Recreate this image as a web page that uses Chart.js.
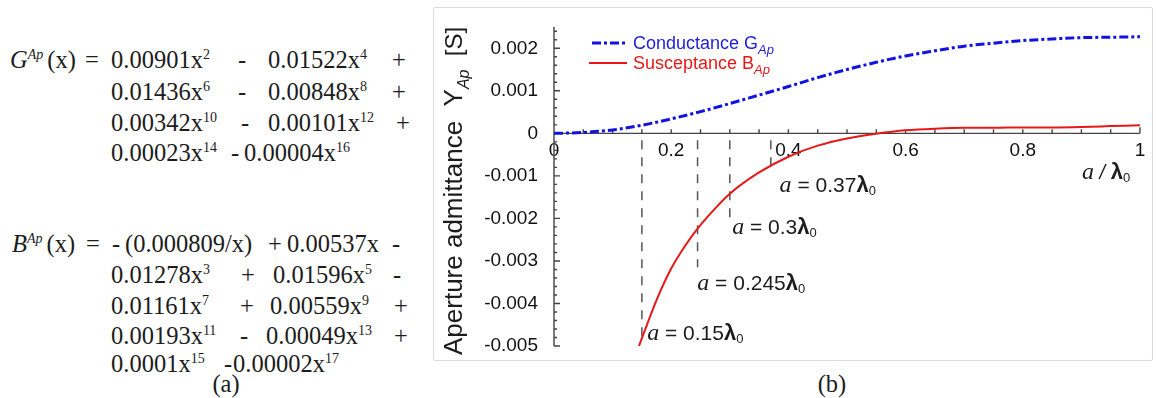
<!DOCTYPE html>
<html lang="en">
<head>
<meta charset="UTF-8">
<title>Aperture admittance</title>
<script src="https://cdn.jsdelivr.net/npm/chart.js"></script>
<style>
  body {
    margin: 0;
    width: 1157px;
    height: 398px;
    position: relative;
    overflow: hidden;
    background: #fff;
    font-family: "Liberation Serif", "Times New Roman", serif;
    color: #1c1c1c;
  }
  .t {
    position: absolute;
    font-size: 24.5px;
    line-height: 30px;
    white-space: nowrap;
  }
  .t sup {
    font-size: 14px;
    vertical-align: baseline;
    position: relative;
    top: -9px;
  }
  .cap { transform: translateX(-50%); }
  #panel {
    position: absolute;
    left: 433px;
    top: 7px;
    width: 720px;
    height: 354px;
    box-sizing: border-box;
    border: 1px solid #dcdcdc;
    border-radius: 2px;
  }
  #panel canvas { display: block; }
</style>
</head>
<body>

<!-- (a) fitted expressions -->
<div class="t" style="left:10px;top:45px"><i>G</i><sup><i>Ap</i></sup><span style="margin-left:4px">(x)</span></div>
<div class="t" style="left:85px;top:45px">=</div>
<div class="t" style="left:111px;top:45px">0.00901x<sup>2</sup></div>
<div class="t" style="left:238px;top:45px">-</div>
<div class="t" style="left:268px;top:45px">0.01522x<sup>4</sup></div>
<div class="t" style="left:392px;top:45px">+</div>

<div class="t" style="left:111px;top:77px">0.01436x<sup>6</sup></div>
<div class="t" style="left:238px;top:77px">-</div>
<div class="t" style="left:268px;top:77px">0.00848x<sup>8</sup></div>
<div class="t" style="left:392px;top:77px">+</div>

<div class="t" style="left:111px;top:108px">0.00342x<sup>10</sup></div>
<div class="t" style="left:241px;top:108px">-</div>
<div class="t" style="left:268px;top:108px">0.00101x<sup>12</sup></div>
<div class="t" style="left:396px;top:108px">+</div>

<div class="t" style="left:111px;top:138px">0.00023x<sup>14</sup></div>
<div class="t" style="left:231px;top:138px">-</div>
<div class="t" style="left:244px;top:138px">0.00004x<sup>16</sup></div>

<div class="t" style="left:12px;top:229px"><i>B</i><sup><i>Ap</i></sup><span style="margin-left:4px">(x)</span></div>
<div class="t" style="left:86px;top:229px">=</div>
<div class="t" style="left:112px;top:229px">-</div>
<div class="t" style="left:125px;top:229px">(0.000809/x)</div>
<div class="t" style="left:268px;top:229px">+</div>
<div class="t" style="left:287px;top:229px">0.00537x</div>
<div class="t" style="left:392px;top:229px">-</div>

<div class="t" style="left:111px;top:260px">0.01278x<sup>3</sup></div>
<div class="t" style="left:241px;top:260px">+</div>
<div class="t" style="left:273px;top:260px">0.01596x<sup>5</sup></div>
<div class="t" style="left:393px;top:260px">-</div>

<div class="t" style="left:111px;top:291px">0.01161x<sup>7</sup></div>
<div class="t" style="left:240px;top:291px">+</div>
<div class="t" style="left:270px;top:291px">0.00559x<sup>9</sup></div>
<div class="t" style="left:394px;top:291px">+</div>

<div class="t" style="left:111px;top:321px">0.00193x<sup>11</sup></div>
<div class="t" style="left:240px;top:321px">-</div>
<div class="t" style="left:266px;top:321px">0.00049x<sup>13</sup></div>
<div class="t" style="left:394px;top:321px">+</div>

<div class="t" style="left:111px;top:349px">0.0001x<sup>15</sup></div>
<div class="t" style="left:224px;top:349px">-</div>
<div class="t" style="left:233px;top:349px">0.00002x<sup>17</sup></div>

<div class="t cap" style="left:226px;top:369px">(a)</div>
<div class="t cap" style="left:832px;top:369px">(b)</div>

<!-- (b) chart -->
<div id="panel"><canvas id="admittance" width="718" height="352"></canvas></div>

<script>
  // a / lambda0 sample points
  const gX = [0, 0.05, 0.1, 0.15, 0.2, 0.25, 0.3, 0.35, 0.4, 0.45, 0.5,
              0.55, 0.6, 0.65, 0.7, 0.75, 0.8, 0.85, 0.9, 0.95, 1.0];
  const conductanceG = [0, 0.00002, 0.00008, 0.00019, 0.00034, 0.00051, 0.00070, 0.00090,
                        0.00110, 0.00131, 0.00150, 0.00167, 0.00182, 0.00194, 0.00205,
                        0.00212, 0.00218, 0.00222, 0.00225, 0.00226, 0.00227];

  const bX = [0.145, 0.16, 0.175, 0.2, 0.225, 0.245, 0.27, 0.3, 0.35, 0.4, 0.45, 0.5,
              0.55, 0.6, 0.65, 0.7, 0.75, 0.8, 0.85, 0.9, 0.95, 1.0];
  const susceptanceB = [-0.00500, -0.00445, -0.00392, -0.00318, -0.00262, -0.00224, -0.00184,
                        -0.00142, -0.00092, -0.00055, -0.00029, -0.00012, -0.00001, 0.00007,
                        0.00011, 0.00013, 0.00013, 0.00014, 0.00014, 0.00015, 0.00017, 0.00019];

  // dashed guides at the marked aperture sizes
  const markerX = [0.15, 0.245, 0.3, 0.37];
  const markerText = ['0.15', '0.245', '0.3', '0.37'];
  const markerEnd = [-0.0048, -0.00315, -0.00198, -0.00094];

  const xTicks = [0, 0.2, 0.4, 0.6, 0.8, 1];
  const yTicks = [0.002, 0.001, 0, -0.001, -0.002, -0.003, -0.004, -0.005];

  const BLUE = '#1212e0';
  const RED = '#e81818';
  const SANS = '"Liberation Sans", Arial, sans-serif';
  const SERIF = '"Liberation Serif", "Times New Roman", serif';

  const guideSets = markerX.map((mx, i) => ({
    data: [{ x: mx, y: -0.00016 }, { x: mx, y: markerEnd[i] }],
    borderColor: '#555',
    borderWidth: 1.5,
    borderDash: [9, 8],
    pointRadius: 0,
    tension: 0
  }));

  function rich(ctx, x, y, parts) {
    parts.forEach(p => {
      ctx.font = p.font;
      ctx.fillText(p.text, x, y + (p.dy || 0));
      x += ctx.measureText(p.text).width;
    });
    return x;
  }

  const decor = {
    id: 'decor',
    beforeDatasetsDraw(chart) {
      const { ctx, chartArea: a, scales: { x, y } } = chart;
      const y0 = y.getPixelForValue(0);
      const xEnd = x.getPixelForValue(1);
      ctx.save();
      ctx.strokeStyle = '#444';
      ctx.lineWidth = 1.4;
      ctx.beginPath();
      ctx.moveTo(a.left, a.top);
      ctx.lineTo(a.left, a.bottom);
      ctx.moveTo(a.left, y0);
      ctx.lineTo(xEnd, y0);
      // y ticks: major every 0.001, minor every 0.0002
      for (let i = 0; i <= 37; i++) {
        const v = -0.005 + i * 0.0002;
        const py = y.getPixelForValue(v);
        const len = i % 5 === 0 ? 6 : 3;
        ctx.moveTo(a.left, py);
        ctx.lineTo(a.left + len, py);
      }
      // x ticks every 0.05 pointing up
      for (let i = 1; i <= 20; i++) {
        const px = x.getPixelForValue(i * 0.05);
        ctx.moveTo(px, y0);
        ctx.lineTo(px, y0 - (i === 20 ? 6 : 4));
      }
      ctx.stroke();
      ctx.restore();
    },
    afterDraw(chart) {
      const { ctx, scales: { x, y } } = chart;
      ctx.save();
      ctx.textBaseline = 'alphabetic';

      // legend
      ctx.lineWidth = 3;
      ctx.strokeStyle = BLUE;
      ctx.setLineDash([9, 3, 3, 3]);
      ctx.beginPath(); ctx.moveTo(158, 35); ctx.lineTo(192, 35); ctx.stroke();
      ctx.setLineDash([]);
      ctx.lineWidth = 2;
      ctx.strokeStyle = RED;
      ctx.beginPath(); ctx.moveTo(155, 55); ctx.lineTo(193, 55); ctx.stroke();
      ctx.fillStyle = '#1e1ed8';
      rich(ctx, 199, 41, [
        { text: 'Conductance G', font: '18px ' + SANS },
        { text: 'Ap', font: 'italic 13px ' + SANS, dy: 5 }
      ]);
      ctx.fillStyle = RED;
      rich(ctx, 199, 61, [
        { text: 'Susceptance B', font: '18px ' + SANS },
        { text: 'Ap', font: 'italic 13px ' + SANS, dy: 5 }
      ]);

      // y axis title
      ctx.fillStyle = '#1c1c1c';
      ctx.save();
      ctx.translate(28, 347);
      ctx.rotate(-Math.PI / 2);
      rich(ctx, 0, 0, [
        { text: 'Aperture admittance  Y', font: '26px ' + SANS },
        { text: 'Ap', font: 'italic 16px ' + SANS, dy: 7 },
        { text: '  [S]', font: '24px ' + SANS }
      ]);
      ctx.restore();

      // x axis title
      rich(ctx, 648, 171, [
        { text: 'a', font: 'italic 24px ' + SERIF },
        { text: ' / ', font: 'italic 20px ' + SANS },
        { text: 'λ', font: 'bold 22px ' + SANS },
        { text: '0', font: '13px ' + SANS, dy: 3 }
      ]);

      // guide labels
      const anchors = [[0.159, -0.0047], [0.2445, -0.00353], [0.304, -0.00221], [0.385, -0.00122]];
      markerText.forEach((t, i) => {
        const px = x.getPixelForValue(anchors[i][0]);
        const py = y.getPixelForValue(anchors[i][1]) + 7;
        rich(ctx, px, py, [
          { text: 'a', font: 'italic 24px ' + SERIF },
          { text: ' = ' + t, font: '21px ' + SANS },
          { text: 'λ', font: 'bold 22px ' + SANS },
          { text: '0', font: '13px ' + SANS, dy: 3 }
        ]);
      });
      ctx.restore();
    }
  };

  new Chart(document.getElementById('admittance'), {
    type: 'line',
    data: {
      datasets: [
        {
          label: 'Conductance GAp',
          data: gX.map((v, i) => ({ x: v, y: conductanceG[i] })),
          borderColor: BLUE,
          borderWidth: 3,
          borderDash: [9, 3, 3, 3],
          pointRadius: 0,
          cubicInterpolationMode: 'monotone'
        },
        {
          label: 'Susceptance BAp',
          data: bX.map((v, i) => ({ x: v, y: susceptanceB[i] })),
          borderColor: RED,
          borderWidth: 2,
          pointRadius: 0,
          cubicInterpolationMode: 'monotone'
        },
        ...guideSets
      ]
    },
    options: {
      responsive: false,
      animation: false,
      events: [],
      layout: { padding: { top: 19, bottom: 14, left: 0, right: 12 } },
      plugins: { legend: { display: false }, tooltip: { enabled: false } },
      scales: {
        x: {
          type: 'linear',
          min: 0,
          max: 1,
          position: { y: 0 },
          grid: { display: false, drawTicks: false },
          border: { display: false },
          afterBuildTicks: s => { s.ticks = xTicks.map(v => ({ value: v })); },
          afterFit: s => { s.paddingLeft = 0; s.paddingRight = 0; },
          ticks: {
            padding: 6,
            color: '#111',
            font: { family: SANS, size: 19 },
            maxRotation: 0,
            autoSkip: false,
            callback: v => (v === 0 || v === 1) ? String(v) : v.toFixed(1)
          }
        },
        y: {
          type: 'linear',
          min: -0.005,
          max: 0.0025,
          grid: { display: false, drawTicks: false },
          border: { display: false },
          afterFit: s => { s.width = 120; s.paddingTop = 0; s.paddingBottom = 0; },
          afterBuildTicks: s => { s.ticks = yTicks.map(v => ({ value: v })); },
          ticks: {
            padding: 16,
            color: '#111',
            font: { family: SANS, size: 19 },
            autoSkip: false,
            callback: v => v === 0 ? '0' : v.toFixed(3)
          }
        }
      }
    },
    plugins: [decor]
  });
</script>
</body>
</html>
